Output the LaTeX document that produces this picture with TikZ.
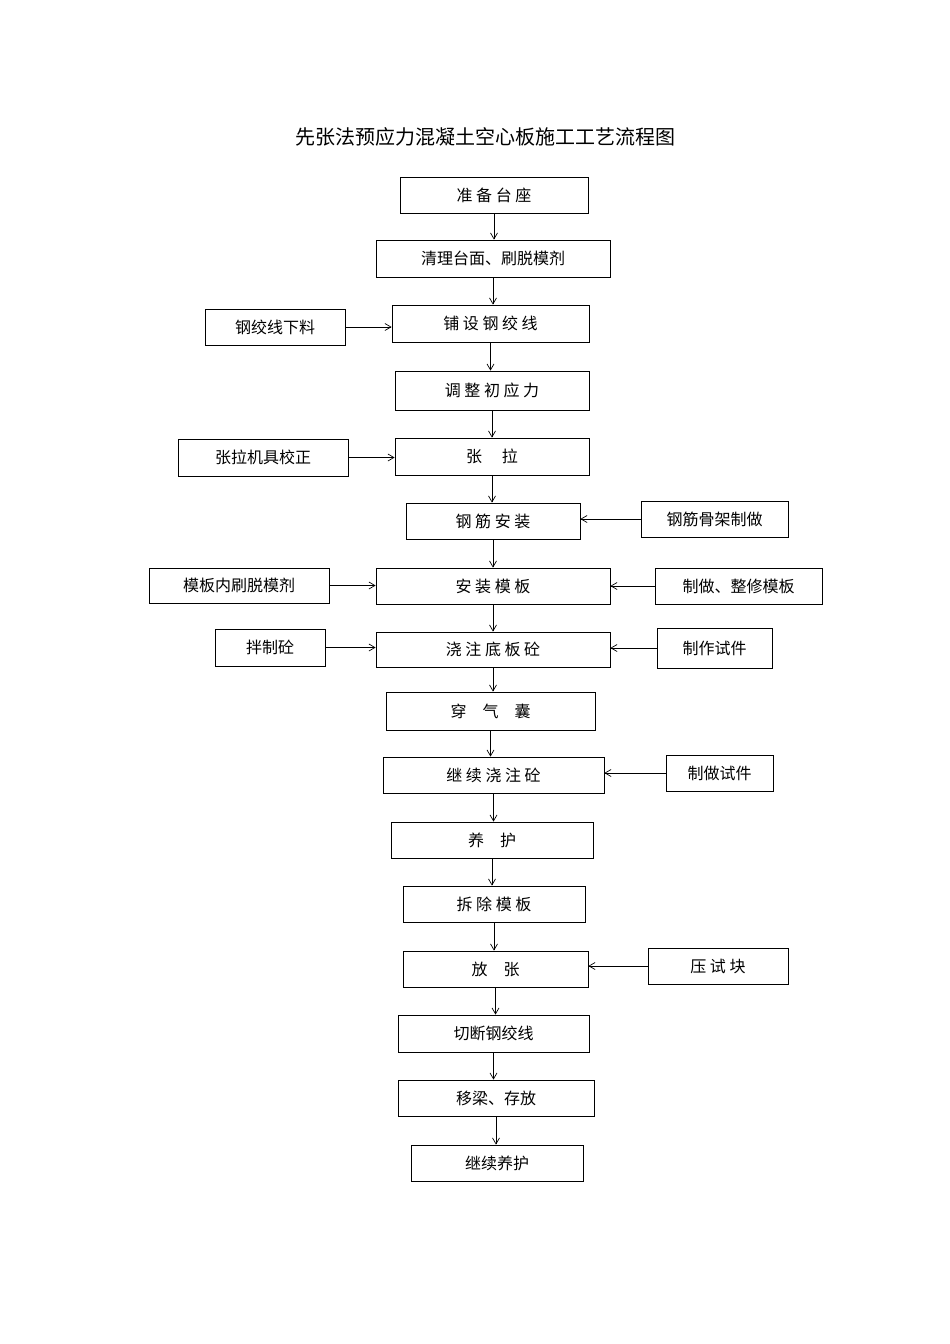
\documentclass[tikz,border=0pt]{standalone}
\usepackage{fontspec}
\setmainfont{Noto Sans CJK SC}
\usetikzlibrary{arrows.meta}
\begin{document}
\begin{tikzpicture}[x=1pt,y=-1pt,
 bx/.style={draw,line width=0.8pt,inner sep=0pt,font=\fontsize{16}{18}\selectfont},
 ar/.style={-{Straight Barb[length=6pt,width=7pt]},line width=0.7pt}]
\useasboundingbox (0,0) rectangle (950,1344);
\newcommand{\bxn}[6]{\node[bx,minimum width=#4-#2,minimum height=#5-#3] (#1) at ({(#2+#4)/2},{(#3+#5)/2}) {#6};}
\node[font=\fontsize{20}{22}\selectfont] at (485,137) {先张法预应力混凝土空心板施工工艺流程图};
\bxn{m1}{400}{177}{588}{213}{准 备 台 座}
\bxn{m2}{376}{240}{610}{277}{清理台面、刷脱模剂}
\bxn{m3}{392}{305}{589}{342}{铺 设 钢 绞 线}
\bxn{m4}{395}{371}{589}{410}{调 整 初 应 力}
\bxn{m5}{395}{438}{589}{475}{张\quad\ 拉}
\bxn{m6}{406}{503}{580}{539}{钢 筋 安 装}
\bxn{m7}{376}{568}{610}{604}{安 装 模 板}
\bxn{m8}{376}{632}{610}{667}{浇 注 底 板 砼}
\bxn{m9}{386}{692}{595}{730}{穿\quad 气\quad 囊}
\bxn{m10}{383}{757}{604}{793}{继 续 浇 注 砼}
\bxn{m11}{391}{822}{593}{858}{养\quad 护}
\bxn{m12}{403}{886}{585}{922}{拆 除 模 板}
\bxn{m13}{403}{951}{588}{987}{放\quad 张}
\bxn{m14}{398}{1015}{589}{1052}{切断钢绞线}
\bxn{m15}{398}{1080}{594}{1116}{移梁、存放}
\bxn{m16}{411}{1145}{583}{1181}{继续养护}
\bxn{s1}{205}{309}{345}{345}{钢绞线下料}
\bxn{s2}{178}{439}{348}{476}{张拉机具校正}
\bxn{s3}{641}{501}{788}{537}{钢筋骨架制做}
\bxn{s4}{149}{568}{329}{603}{模板内刷脱模剂}
\bxn{s5}{655}{568}{822}{604}{制做、整修模板}
\bxn{s6}{215}{629}{325}{666}{拌制砼}
\bxn{s7}{657}{628}{772}{668}{制作试件}
\bxn{s8}{666}{755}{773}{791}{制做试件}
\bxn{s9}{648}{948}{788}{984}{压 试 块}
\foreach \a/\b in {m1/m2,m2/m3,m3/m4,m4/m5,m5/m6,m6/m7,m7/m8,m8/m9,m9/m10,m10/m11,m11/m12,m12/m13,m13/m14,m14/m15,m15/m16}
  \draw[ar] (\a.south) -- (\a.south |- \b.north);
\draw[ar] (s1.east) -- (s1.east -| m3.west);
\draw[ar] (s2.east) -- (s2.east -| m5.west);
\draw[ar] (s3.west) -- (s3.west -| m6.east);
\draw[ar] (s4.east) -- (s4.east -| m7.west);
\draw[ar] (s5.west) -- (s5.west -| m7.east);
\draw[ar] (s6.east) -- (s6.east -| m8.west);
\draw[ar] (s7.west) -- (s7.west -| m8.east);
\draw[ar] (s8.west) -- (s8.west -| m10.east);
\draw[ar] (s9.west) -- (s9.west -| m13.east);
\end{tikzpicture}
\end{document}
